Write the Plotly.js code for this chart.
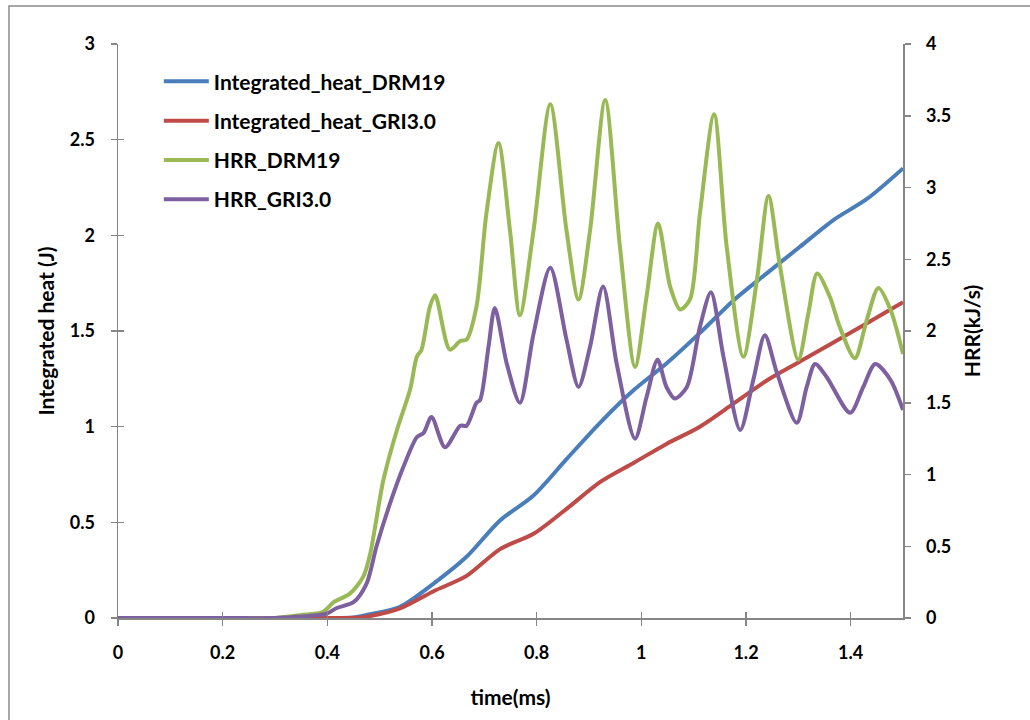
<!DOCTYPE html>
<html>
<head>
<meta charset="utf-8">
<script src="https://cdn.plot.ly/plotly-3.0.1.min.js"></script>
<style>html,body{margin:0;padding:0;background:#fff;}#chart{width:1030px;height:720px;}</style>
</head>
<body>
<div id="chart"></div>
<script>
// ---- data ----
const seriesNames = ["Integrated_heat_DRM19", "Integrated_heat_GRI3.0", "HRR_DRM19", "HRR_GRI3.0"];

const timeHeatDRM = [0, 0.2, 0.4, 0.45, 0.475, 0.539, 0.603, 0.666, 0.730, 0.794, 0.857, 0.921, 0.985, 1.048, 1.112, 1.176, 1.239, 1.303, 1.367, 1.431, 1.5];
const heatDRM     = [0, 0, 0, 0.003, 0.016, 0.059, 0.18, 0.32, 0.51, 0.64, 0.83, 1.02, 1.19, 1.33, 1.49, 1.66, 1.80, 1.94, 2.08, 2.19, 2.35];

const timeHeatGRI = [0, 0.2, 0.4, 0.45, 0.475, 0.539, 0.603, 0.666, 0.730, 0.794, 0.857, 0.921, 0.985, 1.048, 1.112, 1.176, 1.239, 1.303, 1.367, 1.431, 1.5];
const heatGRI     = [0, 0, 0, 0.001, 0.007, 0.05, 0.14, 0.22, 0.36, 0.44, 0.57, 0.71, 0.81, 0.91, 1.00, 1.12, 1.24, 1.34, 1.44, 1.54, 1.65];

const timeHrrDRM = [0, 0.2, 0.3, 0.348, 0.392, 0.412, 0.443, 0.469, 0.482, 0.507, 0.533, 0.558, 0.571, 0.580, 0.596, 0.606, 0.634, 0.654, 0.666, 0.685, 0.704, 0.727, 0.749, 0.768, 0.794, 0.826, 0.857, 0.880, 0.902, 0.931, 0.959, 0.988, 1.010, 1.032, 1.055, 1.074, 1.093, 1.112, 1.139, 1.163, 1.195, 1.221, 1.243, 1.265, 1.300, 1.319, 1.336, 1.360, 1.379, 1.408, 1.431, 1.453, 1.476, 1.5];
const hrrDRM     = [0, 0, 0, 0.02, 0.044, 0.11, 0.17, 0.29, 0.45, 0.96, 1.31, 1.59, 1.82, 1.87, 2.17, 2.25, 1.87, 1.93, 1.94, 2.17, 2.82, 3.31, 2.70, 2.11, 2.70, 3.58, 2.70, 2.22, 2.70, 3.61, 2.59, 1.75, 2.24, 2.75, 2.31, 2.15, 2.22, 2.82, 3.51, 2.59, 1.82, 2.36, 2.94, 2.45, 1.80, 2.12, 2.40, 2.24, 2.03, 1.81, 2.08, 2.30, 2.15, 1.84];

const timeHrrGRI = [0, 0.2, 0.3, 0.348, 0.399, 0.418, 0.450, 0.475, 0.494, 0.520, 0.545, 0.571, 0.584, 0.599, 0.625, 0.654, 0.666, 0.685, 0.692, 0.708, 0.720, 0.743, 0.768, 0.794, 0.826, 0.857, 0.880, 0.902, 0.927, 0.953, 0.988, 1.010, 1.031, 1.048, 1.064, 1.087, 1.112, 1.133, 1.157, 1.189, 1.214, 1.236, 1.259, 1.297, 1.316, 1.332, 1.354, 1.399, 1.424, 1.447, 1.476, 1.5];
const hrrGRI     = [0, 0, 0, 0.01, 0.03, 0.07, 0.11, 0.24, 0.50, 0.80, 1.05, 1.26, 1.29, 1.40, 1.19, 1.34, 1.34, 1.50, 1.52, 1.89, 2.16, 1.77, 1.50, 1.98, 2.44, 1.94, 1.61, 1.89, 2.31, 1.77, 1.25, 1.54, 1.80, 1.61, 1.53, 1.61, 2.03, 2.27, 1.82, 1.31, 1.66, 1.97, 1.71, 1.36, 1.61, 1.77, 1.68, 1.43, 1.61, 1.77, 1.66, 1.45];

const xTitle = "time(ms)";
const yLeftTitle = "Integrated heat (J)";
const yRightTitle = "HRR(kJ/s)";

// ---- styling ----
const colors = ["#4A7EBB", "#BE4B48", "#98B954", "#7D60A0"];
const FONT = "Lato, 'Open Sans', sans-serif";
const axisGray = "#868686";

function lineTrace(x, y, i, yaxis) {
  return {
    x: x, y: y, name: seriesNames[i], type: "scatter", mode: "lines",
    yaxis: yaxis, legendgroup: "g" + i,
    line: {color: colors[i], width: 4, shape: "spline", smoothing: 0.8}
  };
}

const traces = [
  lineTrace(timeHeatDRM, heatDRM, 0, "y"),
  lineTrace(timeHeatGRI, heatGRI, 1, "y"),
  lineTrace(timeHrrDRM, hrrDRM, 2, "y2"),
  lineTrace(timeHrrGRI, hrrGRI, 3, "y2"),
  // empty helper trace so the inward-tick overlay axes are drawn
  {x: [], y: [], type: "scatter", mode: "lines", xaxis: "x2", yaxis: "y3", showlegend: false, hoverinfo: "skip"}
];

const tickFont = {family: FONT, size: 18, color: "#000", weight: 700};
const titleFont = {family: FONT, size: 21, color: "#000", weight: 700};

const layout = {
  width: 1030, height: 720,
  margin: {l: 118, r: 127, t: 44, b: 102, pad: 0},
  paper_bgcolor: "#fff", plot_bgcolor: "#fff",
  showlegend: true,
  legend: {
    x: 0.052, y: 0.97, xanchor: "left", yanchor: "top",
    bgcolor: "rgba(0,0,0,0)", tracegroupgap: 9, itemwidth: 45,
    font: {family: FONT, size: 21, color: "#000", weight: 700}
  },
  xaxis: {
    range: [0, 1.5], dtick: 0.2, tick0: 0, showgrid: false, zeroline: false,
    showline: true, linecolor: axisGray, linewidth: 1.5,
    ticks: "outside", ticklen: 6, tickcolor: axisGray, tickwidth: 1.5,
    tickfont: tickFont, ticklabelstandoff: 12,
    title: {text: xTitle, font: titleFont, standoff: 28}
  },
  yaxis: {
    range: [0, 3], dtick: 0.5, tick0: 0, showgrid: false, zeroline: false,
    showline: true, linecolor: axisGray, linewidth: 1.5,
    ticks: "outside", ticklen: 6, tickcolor: axisGray, tickwidth: 1.5,
    tickfont: tickFont, ticklabelstandoff: 12,
    title: {text: yLeftTitle, font: titleFont, standoff: 9}
  },
  yaxis2: {
    range: [0, 4], dtick: 0.5, tick0: 0, overlaying: "y", side: "right", anchor: "x",
    showgrid: false, zeroline: false,
    showline: true, linecolor: axisGray, linewidth: 1.5,
    ticks: "outside", ticklen: 6, tickcolor: axisGray, tickwidth: 1.5,
    tickfont: tickFont, ticklabelstandoff: 12,
    title: {text: yRightTitle, font: titleFont, standoff: 15}
  },
  xaxis2: {
    range: [0, 1.5], dtick: 0.2, tick0: 0, overlaying: "x", anchor: "y3",
    showgrid: false, zeroline: false, showline: false, showticklabels: false,
    ticks: "inside", ticklen: 6, tickcolor: axisGray, tickwidth: 1.5, side: "bottom"
  },
  yaxis3: {
    range: [0, 3], dtick: 0.5, tick0: 0, overlaying: "y", anchor: "x2", side: "left",
    showgrid: false, zeroline: false, showline: false, showticklabels: false,
    ticks: "inside", ticklen: 6, tickcolor: axisGray, tickwidth: 1.5
  },
  shapes: [{
    type: "rect", xref: "paper", yref: "paper",
    x0: -0.1389, x1: 1.3, y0: -0.4, y1: 1.0662,
    line: {color: "#8c8c8c", width: 1.5}, fillcolor: "rgba(0,0,0,0)", layer: "below"
  }]
};

Plotly.newPlot("chart", traces, layout, {staticPlot: true, displayModeBar: false});
</script>
</body>
</html>
